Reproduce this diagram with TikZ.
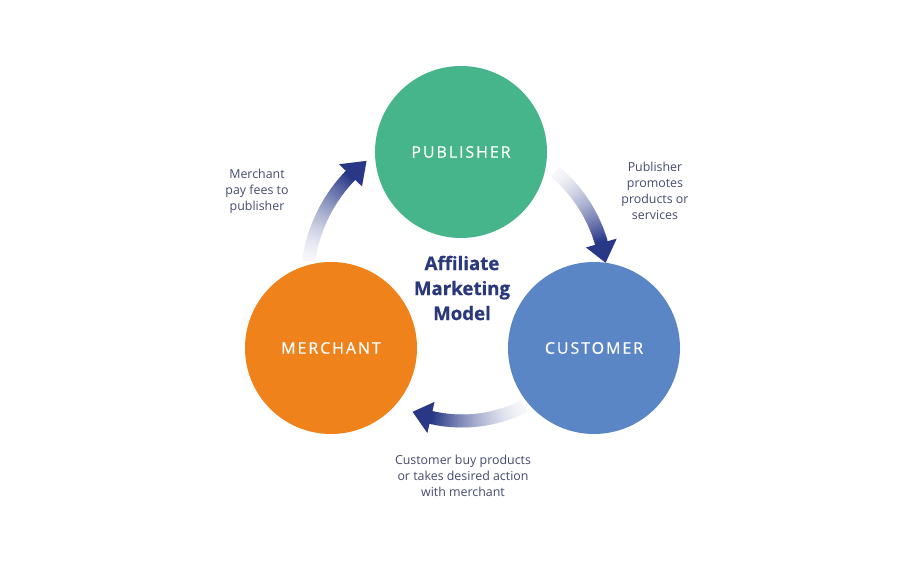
\documentclass[tikz,border=0pt]{standalone}
\usepackage{fontspec}
\setmainfont{Open Sans}
\usepackage{tikz}
\usetikzlibrary{calc,positioning}
\definecolor{pubgreen}{RGB}{70,181,140}
\definecolor{merchorange}{RGB}{239,130,26}
\definecolor{custblue}{RGB}{90,134,197}
\definecolor{navy}{RGB}{40,56,135}
\definecolor{titlenavy}{RGB}{42,56,124}
\definecolor{notegray}{RGB}{70,74,112}
\tikzstyle{bubble} = [circle,minimum size=129pt,inner sep=0pt,text=white,font=\fontsize{12}{14}\selectfont\addfontfeature{LetterSpace=12,FakeBold=0.6}]
\tikzstyle{note}   = [align=center,text=notegray,font=\fontsize{9.3}{12}\selectfont]

\begin{document}
\begin{tikzpicture}[x=0.75pt,y=0.75pt]
    \useasboundingbox (0,0) rectangle (916,573);
    \coordinate (ctr) at (462,290);
    \node[bubble,fill=pubgreen] (pub) at (461,421) {PUBLISHER};
    \node[bubble,fill=custblue] (cust) at (594,225) {CUSTOMER};
    \node[bubble,fill=merchorange] (merch) at (331,225) {MERCHANT};
    \node[align=center,text=titlenavy,font=\fontsize{14}{18.75}\selectfont\bfseries\addfontfeature{FakeBold=0.8}] (title) at (462,285) {Affiliate\\Marketing\\Model};
    % notes next to the arrows
    \node[note] (mnote) at (257,382) {Merchant\\pay fees to\\publisher};
    \node[note] (pnote) at (655,382) {Publisher\\promotes\\products or\\services};
    \node[note] (cnote) at (463,97) {Customer buy products\\or takes desired action\\with merchant};
    % curved arrows, faded at the tail
    \foreach \s/\e/\r in {172/136/155, 50/16/145, -63/-103/138} {
        \foreach \i in {0,...,39} {
            \pgfmathsetmacro\a{\s+(\e-\s)*\i/40}
            \pgfmathsetmacro\b{\s+(\e-\s)*(\i+1.4)/40}
            \pgfmathsetmacro\p{4+96*(\i/39)^1.5}
            \draw[navy!\p!white,line width=9.75pt] ($(ctr)+(\a:\r)$) arc (\a:\b:\r);
        }
        \fill[navy] ($(ctr)+(\e:{\r+16})$) -- ($(ctr)+(\e:{\r-16})$) -- ($(ctr)+(\e-8:\r)$) -- cycle;
    }
\end{tikzpicture}
\end{document}
